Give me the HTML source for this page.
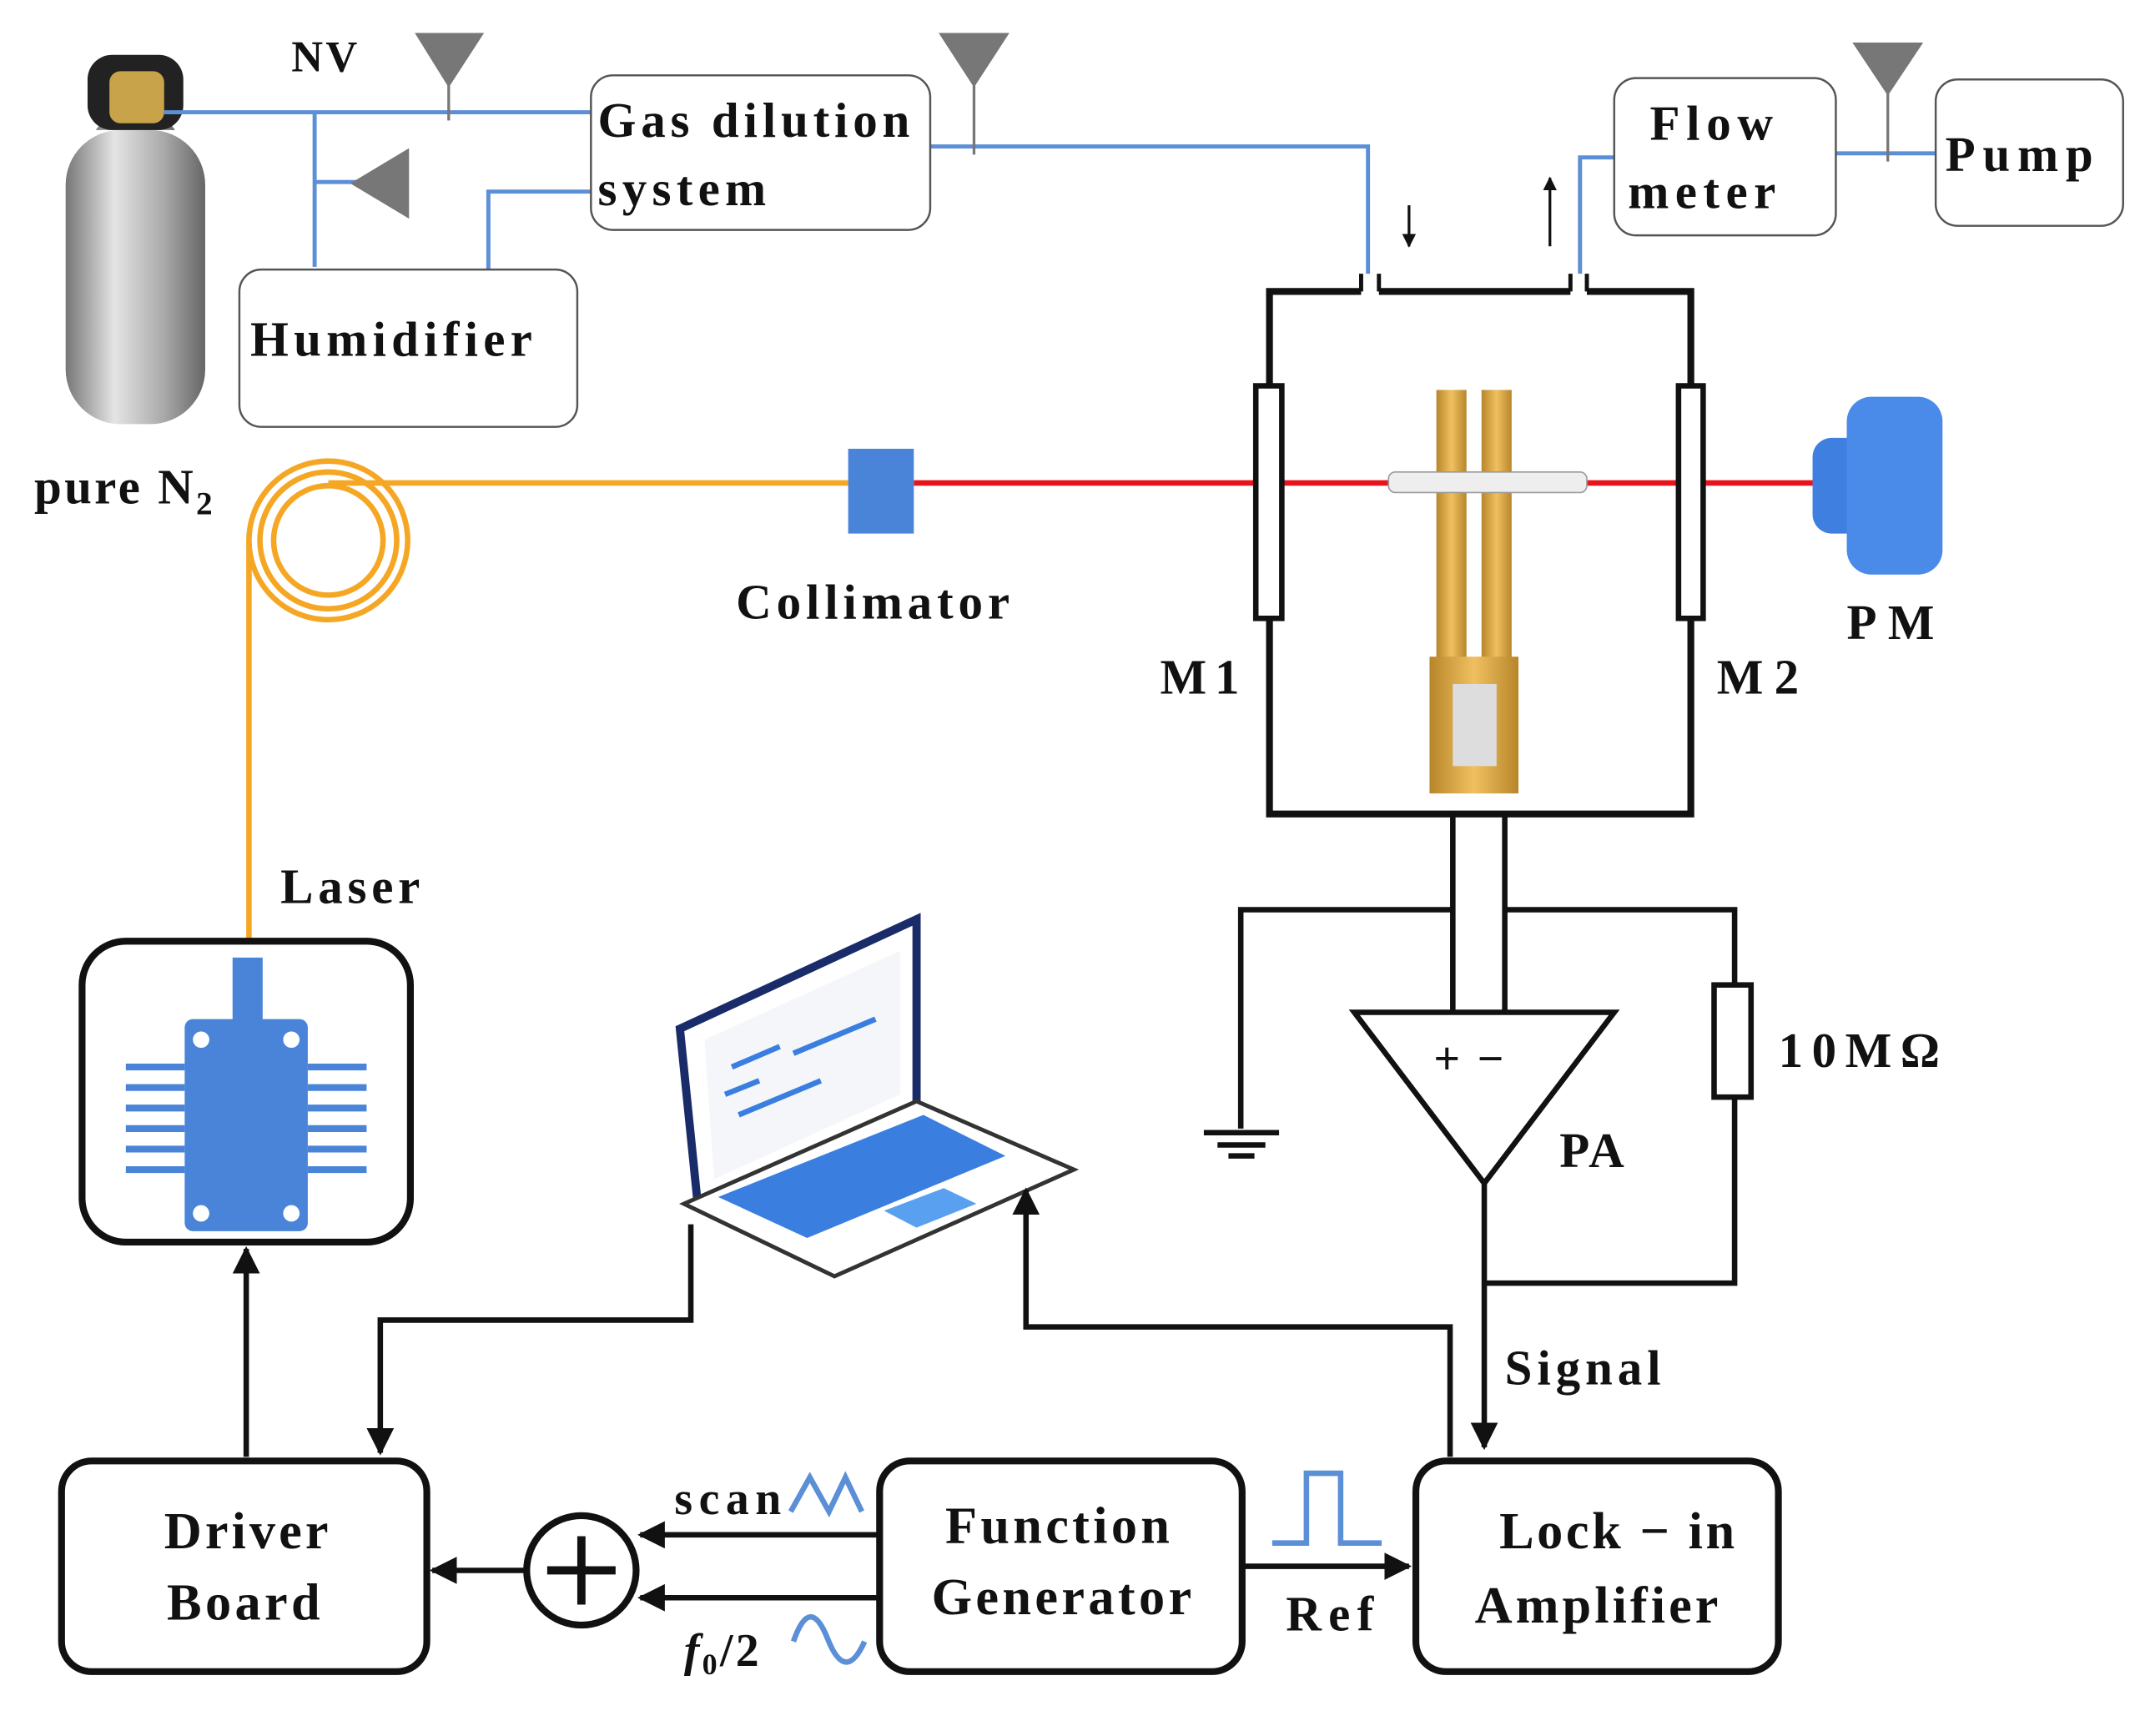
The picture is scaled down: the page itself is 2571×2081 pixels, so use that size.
<!DOCTYPE html>
<html><head><meta charset="utf-8"><style>
html,body{margin:0;padding:0;background:#fff}
svg{display:block}
text{font-family:"Liberation Serif",serif;font-weight:bold;fill:#111;letter-spacing:2px}
</style></head><body>
<svg width="2571" height="2081" viewBox="0 0 1568 1269" xmlns="http://www.w3.org/2000/svg">
<defs>
<linearGradient id="cyl" x1="0" x2="1"><stop offset="0" stop-color="#777"/><stop offset="0.35" stop-color="#e4e4e4"/><stop offset="0.7" stop-color="#aaa"/><stop offset="1" stop-color="#666"/></linearGradient>
<linearGradient id="gold" x1="0" x2="1"><stop offset="0" stop-color="#b8862a"/><stop offset="0.5" stop-color="#f0c060"/><stop offset="1" stop-color="#b8862a"/></linearGradient>
<marker id="ar" viewBox="0 0 10 10" refX="9" refY="5" markerWidth="5" markerHeight="5" orient="auto"><path d="M0,0L10,5L0,10z" fill="#111"/></marker>
</defs>
<rect x="48" y="95" width="102" height="215" rx="40" fill="url(#cyl)"/>
<path d="M70,95 Q99,55 128,95z" fill="url(#cyl)"/>
<rect x="64" y="40" width="70" height="55" rx="18" fill="#222"/>
<rect x="80" y="52" width="40" height="38" rx="8" fill="#c9a34a"/>
<g stroke="#5b8fd6" stroke-width="3" fill="none">
<path d="M120,82H432"/><path d="M230,82V195"/><path d="M230,133H262"/>
<path d="M357,197V140H432"/><path d="M680,107H1000V200"/>
<path d="M1180,115H1155V200"/><path d="M1342,112H1415"/>
</g>
<g fill="#777" stroke="#777" stroke-width="2">
<path d="M305,25H352L328,62z"/><line x1="328" y1="60" x2="328" y2="88"/>
<path d="M688,25H736L712,62z"/><line x1="712" y1="60" x2="712" y2="113"/>
<path d="M1356,32H1404L1380,68z"/><line x1="1380" y1="66" x2="1380" y2="118"/>
<path d="M298,110V158L258,134z"/>
</g>
<g fill="#fff" stroke="#555" stroke-width="1.5">
<rect x="432" y="55" width="248" height="113" rx="16"/>
<rect x="175" y="197" width="247" height="115" rx="16"/>
<rect x="1180" y="57" width="162" height="115" rx="16"/>
<rect x="1415" y="58" width="137" height="107" rx="16"/>
</g>
<text x="213" y="52" font-size="32">NV</text>
<text x="437" y="100" font-size="36" textLength="230">Gas dilution</text>
<text x="437" y="150" font-size="36" textLength="125">system</text>
<text x="183" y="260" font-size="36" textLength="208">Humidifier</text>
<text x="1206" y="102" font-size="36" textLength="92">Flow</text>
<text x="1190" y="152" font-size="36" textLength="110">meter</text>
<text x="1422" y="125" font-size="36" textLength="110">Pump</text>
<line x1="1030" y1="150" x2="1030" y2="180" stroke="#111" stroke-width="2" marker-end="url(#ar)"/>
<line x1="1133" y1="180" x2="1133" y2="130" stroke="#111" stroke-width="2" marker-end="url(#ar)"/>
<path d="M995,213H928V595H1236V213H1160M1008,213H1148" fill="none" stroke="#111" stroke-width="5"/>
<path d="M995,213V200M1008,213V200M1148,213V200M1160,213V200" stroke="#111" stroke-width="3"/>
<line x1="668" y1="353" x2="1330" y2="353" stroke="#e8141b" stroke-width="4"/>
<rect x="918" y="282" width="19" height="170" fill="#fff" stroke="#111" stroke-width="4"/>
<rect x="1227" y="282" width="18" height="170" fill="#fff" stroke="#111" stroke-width="4"/>
<rect x="1050" y="285" width="22" height="200" fill="url(#gold)"/>
<rect x="1083" y="285" width="22" height="200" fill="url(#gold)"/>
<rect x="1045" y="480" width="65" height="100" fill="url(#gold)"/>
<rect x="1062" y="500" width="32" height="60" fill="#ddd"/>
<rect x="1015" y="345" width="145" height="15" rx="5" fill="#eee" stroke="#999"/>
<g fill="none" stroke="#f5a623" stroke-width="4">
<path d="M620,353H240"/><circle cx="240" cy="395" r="40"/><circle cx="240" cy="395" r="50"/><circle cx="240" cy="395" r="58"/>
<path d="M182,395V690"/>
</g>
<rect x="620" y="328" width="48" height="62" fill="#4a84d8"/>
<rect x="1325" y="320" width="40" height="70" rx="14" fill="#3f7fe0"/>
<rect x="1350" y="290" width="70" height="130" rx="18" fill="#4a8ae8"/>
<text x="25" y="368" font-size="36">pure N<tspan font-size="24" dy="8">2</tspan></text>
<text x="538" y="452" font-size="36" textLength="202">Collimator</text>
<text x="848" y="507" font-size="36" textLength="60">M1</text>
<text x="1255" y="507" font-size="36" textLength="62">M2</text>
<text x="1350" y="467" font-size="36" textLength="66">PM</text>
<g fill="none" stroke="#111" stroke-width="4">
<path d="M1062,595V740M1100,595V740"/>
<path d="M1100,665H1268V720M1268,802V938H1085"/>
<path d="M1062,665H907V825"/>
<path d="M880,828H935M890,837H925M898,845H917"/>
<path d="M990,740H1180L1085,865z" fill="#fff"/>
<path d="M1085,865V1058" marker-end="url(#ar)"/>
<rect x="1253" y="720" width="27" height="82" fill="#fff"/>
</g>
<text x="1048" y="785" font-size="34" letter-spacing="8">+ −</text>
<text x="1140" y="853" font-size="36">PA</text>
<text x="1300" y="780" font-size="36" textLength="120">10MΩ</text>
<text x="1100" y="1012" font-size="36" textLength="116">Signal</text>
<rect x="60" y="688" width="240" height="220" rx="32" fill="#fff" stroke="#111" stroke-width="5"/>
<g fill="#4a84d8">
<path d="M170,700H192V750H170z"/>
<rect x="135" y="745" width="90" height="155" rx="6"/>
<g stroke="#4a84d8" stroke-width="5"><path d="M92,780H135M92,795H135M92,810H135M92,825H135M92,840H135M92,855H135M225,780H268M225,795H268M225,810H268M225,825H268M225,840H268M225,855H268"/></g>
</g>
<g fill="#fff"><circle cx="147" cy="760" r="6"/><circle cx="213" cy="760" r="6"/><circle cx="147" cy="887" r="6"/><circle cx="213" cy="887" r="6"/></g>
<text x="205" y="660" font-size="36" textLength="104">Laser</text>
<path d="M497,752L670,672V810L510,880z" fill="#fff" stroke="#1a2b6a" stroke-width="6"/>
<path d="M515,760L658,695V800L522,862z" fill="#f4f6fa"/>
<path d="M500,880L670,805L785,855L610,933z" fill="#fff" stroke="#333" stroke-width="3"/>
<path d="M525,875L675,815L735,845L590,905z" fill="#3a7ee0"/>
<path d="M645,885L690,868L715,880L670,898z" fill="#5aa0f0" stroke="#fff"/>
<g stroke="#3a7ee0" stroke-width="4"><path d="M535,780L570,765M580,770L640,745M530,800L555,790M540,815L600,790"/></g>
<g fill="#fff" stroke="#111" stroke-width="5">
<rect x="45" y="1068" width="267" height="154" rx="22"/>
<rect x="643" y="1068" width="265" height="154" rx="22"/>
<rect x="1035" y="1068" width="265" height="154" rx="22"/>
<circle cx="425" cy="1148" r="40"/>
</g>
<path d="M400,1148H450M425,1123V1173" stroke="#111" stroke-width="6"/>
<text x="181" y="1132" font-size="38" text-anchor="middle" textLength="122">Driver</text>
<text x="179" y="1184" font-size="38" text-anchor="middle" textLength="114">Board</text>
<text x="774" y="1128" font-size="38" text-anchor="middle" textLength="166">Function</text>
<text x="777" y="1180" font-size="38" text-anchor="middle" textLength="192">Generator</text>
<text x="1183" y="1132" font-size="38" text-anchor="middle" textLength="174">Lock − in</text>
<text x="1168" y="1186" font-size="38" text-anchor="middle" textLength="180">Amplifier</text>
<g fill="none" stroke="#111" stroke-width="4">
<path d="M180,1065V913" marker-end="url(#ar)"/>
<path d="M505,895V965H278V1062" marker-end="url(#ar)"/>
<path d="M1060,1065V970H750V870" marker-end="url(#ar)"/>
<path d="M385,1148H316" marker-end="url(#ar)"/>
<path d="M643,1122H468" marker-end="url(#ar)"/>
<path d="M643,1168H468" marker-end="url(#ar)"/>
<path d="M908,1145H1030" marker-end="url(#ar)"/>
</g>
<text x="493" y="1107" font-size="34" textLength="80">scan</text>
<text x="500" y="1218" font-size="34"><tspan font-style="italic">f</tspan><tspan font-size="22" dy="6">0</tspan><tspan dy="-6">/2</tspan></text>
<text x="940" y="1192" font-size="36" textLength="66">Ref</text>
<g fill="none" stroke="#5b8fd6" stroke-width="4">
<path d="M578,1105L592,1080L606,1105L618,1080L630,1105"/>
<path d="M580,1200Q592,1165 605,1198T632,1200"/>
<path d="M930,1128H955V1077H980V1128H1010"/>
</g>
</svg>
</body></html>
